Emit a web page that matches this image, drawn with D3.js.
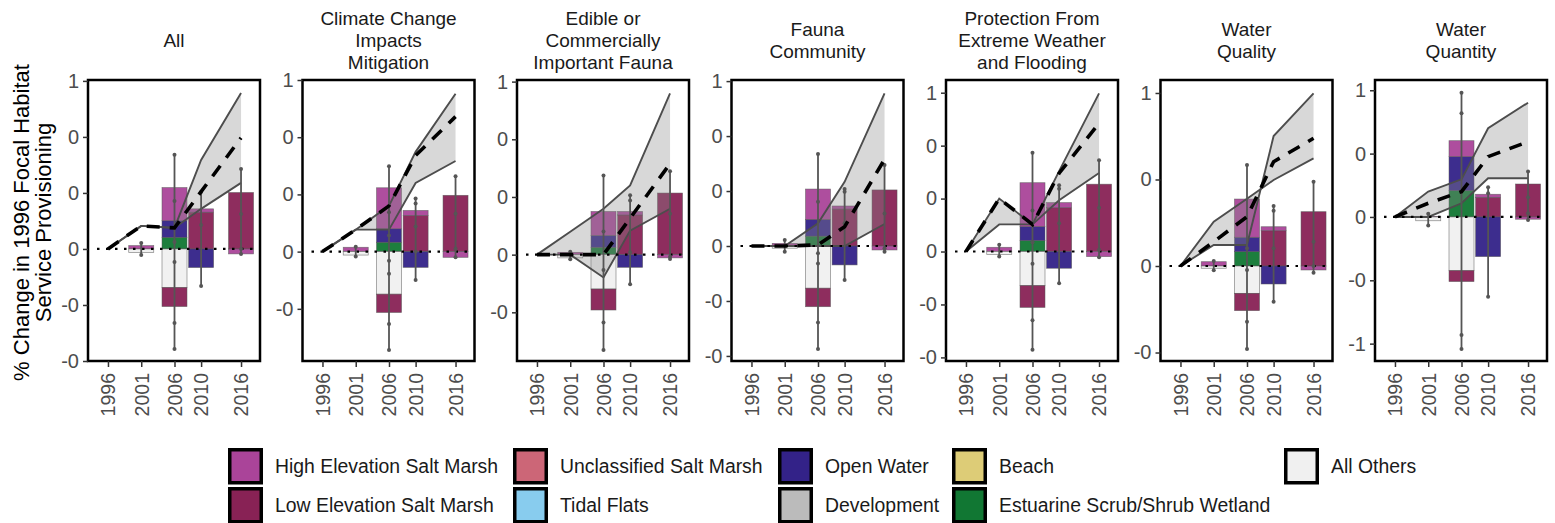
<!DOCTYPE html>
<html><head><meta charset="utf-8">
<script src="https://cdn.jsdelivr.net/npm/d3@7"></script>
<style>
body{margin:0;background:#fff;}
svg{display:block;font-family:"Liberation Sans", Arial, sans-serif;}
</style></head><body>
<svg id="chart" width="1555" height="523"></svg>
<script>
// ---------------- DATA ----------------
const panelTitles = [["All"],["Climate Change","Impacts","Mitigation"],["Edible or","Commercially","Important Fauna"],["Fauna","Community"],["Protection From","Extreme Weather","and Flooding"],["Water","Quality"],["Water","Quantity"]];
const years = [1996, 2001, 2006, 2010, 2016];
const barYears = [2001, 2006, 2010, 2016];

const yDomains = [[-0.5,0.754],[-0.478,0.75],[-0.461,0.757],[-0.523,0.755],[-0.517,0.81],[-0.549,1.075],[-1.137,1.081]];
const yTickValues = [
  [0.75,0.5,0.25,0,-0.25,-0.5],
  [0.75,0.5,0.25,0,-0.25],
  [0.75,0.5,0.25,0,-0.25],
  [0.75,0.5,0.25,0,-0.25,-0.5],
  [0.75,0.5,0.25,0,-0.25,-0.5],
  [1,0.5,0,-0.5],
  [1,0.5,0,-0.5,-1]];
const yTickLabels = [
  ["1","0","0","0","-0","-0"],
  ["1","0","0","0","-0"],
  ["1","0","0","0","-0"],
  ["1","0","0","0","-0","-0"],
  ["1","0","0","0","-0","-0"],
  ["1","0","0","-0"],
  ["1","0","0","-0","-1"]];

// ribbon bounds and mean at years 1996..2016
const ribbonLow = [
  [0,0.103,0.094,0.179,0.295],
  [0,0.096,0.096,0.300,0.396],
  [0,0,-0.099,0.104,0.199],
  [0,0,0,0,0.100],
  [0,0.128,0.128,0.242,0.371],
  [0,0.256,0.389,0.497,0.622],
  [0,0,0.108,0.305,0.305]];
const ribbonHigh = [
  [0,0.103,0.094,0.397,0.696],
  [0,0.096,0.200,0.436,0.690],
  [0,0.099,0.199,0.300,0.699],
  [0,0,0.103,0.292,0.694],
  [0,0.250,0.128,0.380,0.747],
  [0,0.121,0.121,0.751,0.998],
  [0,0.200,0.297,0.700,0.902]];
const meanChange = [
  [0,0.103,0.094,0.256,0.496],
  [0,0.096,0.200,0.420,0.590],
  [0,0,0,0.158,0.394],
  [0,0,0.005,0.088,0.394],
  [0,0.250,0.128,0.370,0.605],
  [0,0.140,0.285,0.603,0.738],
  [0,0.108,0.200,0.476,0.594]];

// stacked habitat contributions at 2001, 2006, 2010, 2016
const estuarineScrub = [[0,0.052,0,0],[0,0.041,0,0],[0,0.032,0,0],[0,0.045,0,0],[0,0.052,0,0],[0,0.083,0,0],[0,0.208,0,0]];
const openWater = [[0,0.074,-0.083,0],[0,0.059,-0.069,0],[0,0.051,-0.055,0],[0,0.076,-0.086,0],[0,0.066,-0.079,0],[0,0.083,-0.104,0],[0,0.268,-0.313,0]];
const lowSaltMarsh = [[0,-0.085,0.164,0.252],[0,-0.080,0.158,0.246],[0,-0.091,0.172,0.267],[0,-0.084,0.168,0.255],[0,-0.103,0.207,0.318],[0,-0.100,0.204,0.314],[0,-0.086,0.155,0.260]];
const highSaltMarsh = [[0.015,0.148,0.015,-0.022],[0.019,0.179,0.022,-0.025],[0.010,0.104,0.015,-0.014],[0.012,0.138,0.014,-0.018],[0.020,0.207,0.024,-0.024],[0.025,0.221,0.023,-0.023],[0.005,0.126,0.024,-0.018]];
const allOthers = [[-0.016,-0.172,0,0],[-0.015,-0.186,0,0],[-0.014,-0.149,0,0],[-0.010,-0.192,0,0],[-0.014,-0.161,0,0],[-0.013,-0.158,0,0],[-0.030,-0.424,0,0]];

// error bar points at 2001, 2006, 2010, 2016
const errorPoints = [
  [[0.027,-0.027],[0.42,0.214,0.094,0.031,-0.058,-0.33,-0.446],[0.254,0.107,-0.165],[0.357,0.156,0,-0.022]],
  [[0.021,-0.021],[0.373,0.172,0.07,-0.04,-0.097,-0.316,-0.43],[0.232,0.21,0.11,0,-0.124],[0.329,0.166,0.013,-0.025]],
  [[0.013,-0.02],[0.343,0.1,-0.067,-0.294,-0.413],[0.257,0.235,0.01,-0.128],[0.361,0.177,-0.009,-0.019]],
  [[0.027,-0.026],[0.418,0.201,-0.033,-0.079,-0.348,-0.468],[0.259,0.247,0.103,-0.155],[0.368,0.148,-0.01,-0.026]],
  [[0.032,-0.024],[0.466,0.194,0.044,-0.058,-0.324,-0.464],[0.313,0.297,0.134,-0.15],[0.431,0.207,0.008,-0.027]],
  [[0.029,-0.025],[0.584,0.102,-0.023,-0.322,-0.48],[0.347,0.32,0.102,-0.206],[0.487,0.14,0,-0.039]],
  [[0.026,-0.068],[0.981,0.818,0.2,-0.931,-1.042],[0.234,0.187,-0.629],[0.358,0.155,0.029,-0.024]]];

const legendNames = ["High Elevation Salt Marsh","Low Elevation Salt Marsh","Unclassified Salt Marsh","Tidal Flats","Open Water","Development","Beach","Estuarine Scrub/Shrub Wetland","All Others"];
const legendColors = ["#AA4499","#882255","#CC6677","#88CCEE","#332288","#BBBBBB","#DDCC77","#117733","#F0F0F0"];

const yAxisTitle = ["% Change in 1996 Focal Habitat","Service Provisioning"];

// ---------------- DRAW ----------------
const svg = d3.select("#chart");
const colorOf = name => legendColors[legendNames.indexOf(name)];
const posOrder = [["Estuarine Scrub/Shrub Wetland", estuarineScrub],["Open Water", openWater],["Low Elevation Salt Marsh", lowSaltMarsh],["High Elevation Salt Marsh", highSaltMarsh],["All Others", allOthers]];
const negOrder = [["All Others", allOthers],["Low Elevation Salt Marsh", lowSaltMarsh],["Open Water", openWater],["High Elevation Salt Marsh", highSaltMarsh],["Estuarine Scrub/Shrub Wetland", estuarineScrub]];

const boxTop = 80, boxH = 281, boxW = 172, firstLeft = 88, step = 214.5;
const barW = 25;
const fontFam = '"Liberation Sans", Arial, sans-serif';

panelTitles.forEach((title, p) => {
  const left = firstLeft + p*step;
  const g = svg.append("g").attr("transform", `translate(${left},${boxTop})`);
  const x = d3.scaleLinear().domain([1993, 2018.85]).range([0, boxW]);
  const y = d3.scaleLinear().domain(yDomains[p]).range([boxH, 0]);

  // bars
  const segs = [];
  barYears.forEach((yr, j) => {
    let base = 0;
    posOrder.forEach(([name, arr]) => {
      const v = arr[p][j];
      if (v > 0) { segs.push({yr, name, y0: base, y1: base + v}); base += v; }
    });
    base = 0;
    negOrder.forEach(([name, arr]) => {
      const v = arr[p][j];
      if (v < 0) { segs.push({yr, name, y0: base + v, y1: base}); base += v; }
    });
  });
  g.append("g").selectAll("rect").data(segs).join("rect")
    .attr("x", d => x(d.yr) - barW/2)
    .attr("width", barW)
    .attr("y", d => y(d.y1))
    .attr("height", d => y(d.y0) - y(d.y1))
    .attr("fill", d => colorOf(d.name))
    .attr("fill-opacity", 0.95)
    .attr("stroke", "#555").attr("stroke-width", 0.7).attr("stroke-opacity", 0.7);

  // ribbon
  const rib = years.map((yr, i) => ({yr, lo: ribbonLow[p][i], hi: ribbonHigh[p][i], m: meanChange[p][i]}));
  g.append("path").datum(rib)
    .attr("d", d3.area().x(d => x(d.yr)).y0(d => y(d.lo)).y1(d => y(d.hi)))
    .attr("fill", "#888").attr("fill-opacity", 0.33);
  ["lo","hi"].forEach(k => {
    g.append("path").datum(rib)
      .attr("d", d3.line().x(d => x(d.yr)).y(d => y(d[k])))
      .attr("fill", "none").attr("stroke", "#4d4d4d").attr("stroke-width", 1.9);
  });

  // zero dotted line
  g.append("line")
    .attr("x1", 9).attr("x2", boxW - 7)
    .attr("y1", y(0)).attr("y2", y(0))
    .attr("stroke", "#000").attr("stroke-width", 2.2)
    .attr("stroke-dasharray", "2.5,6.5");

  // error bars
  barYears.forEach((yr, j) => {
    const pts = errorPoints[p][j];
    const eg = g.append("g");
    eg.append("line")
      .attr("x1", x(yr)).attr("x2", x(yr))
      .attr("y1", y(d3.min(pts))).attr("y2", y(d3.max(pts)))
      .attr("stroke", "#555").attr("stroke-width", 1.8);
    eg.selectAll("circle").data(pts).join("circle")
      .attr("cx", x(yr)).attr("cy", d => y(d)).attr("r", 2)
      .attr("fill", "#555");
  });

  // mean dashed line
  g.append("path").datum(rib)
    .attr("d", d3.line().x(d => x(d.yr)).y(d => y(d.m)))
    .attr("fill", "none").attr("stroke", "#000").attr("stroke-width", 3.6)
    .attr("stroke-dasharray", "13,10");

  // frame
  g.append("rect").attr("x", 0).attr("y", 0).attr("width", boxW).attr("height", boxH)
    .attr("fill", "none").attr("stroke", "#000").attr("stroke-width", 2.5);

  // y axis
  const ya = g.append("g").call(d3.axisLeft(y).tickValues(yTickValues[p])
      .tickFormat((d, i) => yTickLabels[p][i]).tickSize(5).tickPadding(4));
  ya.select(".domain").remove();
  ya.selectAll(".tick line").attr("stroke", "#333").attr("stroke-width", 1.5);
  ya.selectAll(".tick text").attr("fill", "#4d4d4d").style("font-size", "20px")
    .style("font-family", fontFam);

  // x axis
  const xa = g.append("g").attr("transform", `translate(0,${boxH})`)
    .call(d3.axisBottom(x).tickValues(years).tickFormat(d3.format("d")).tickSize(6));
  xa.select(".domain").remove();
  xa.selectAll(".tick line").attr("stroke", "#333").attr("stroke-width", 1.5);
  xa.selectAll(".tick text")
    .attr("transform", "rotate(-90)")
    .attr("x", -12).attr("y", 0).attr("dy", "0.35em")
    .attr("text-anchor", "end")
    .attr("fill", "#4d4d4d").style("font-size", "19.5px")
    .style("font-family", fontFam);

  // title
  const n = title.length;
  const t = svg.append("text").attr("text-anchor", "middle")
    .style("font-size", "19px").attr("fill", "#1a1a1a");
  title.forEach((line, i) => {
    t.append("tspan").attr("x", left + boxW/2)
      .attr("y", 40 + (i - (n - 1)/2) * 22).attr("dy", "0.35em").text(line);
  });
});

// y axis title
const yt = svg.append("text").attr("transform", "translate(28.5,222.5) rotate(-90)")
  .attr("text-anchor", "middle").style("font-size", "22px").attr("fill", "#000");
yAxisTitle.forEach((line, i) => {
  yt.append("tspan").attr("x", 0).attr("y", i * 22).text(line);
});

// legend
const legendCols = [228, 513, 778, 952, 1284];
const legendRows = [448, 487];
const lg = svg.append("g");
legendNames.forEach((name, i) => {
  const col = Math.floor(i / 2), row = i % 2;
  const gx = legendCols[col], gy = legendRows[row];
  lg.append("rect").attr("x", gx + 1.75).attr("y", gy + 1.75)
    .attr("width", 31.5).attr("height", 33)
    .attr("fill", legendColors[i]).attr("stroke", "#000").attr("stroke-width", 3.5);
  lg.append("text").attr("x", gx + 47).attr("y", gy + 18.5).attr("dy", "0.35em")
    .style("font-size", "19.4px").attr("fill", "#1a1a1a").text(name);
});
</script>
</body></html>
